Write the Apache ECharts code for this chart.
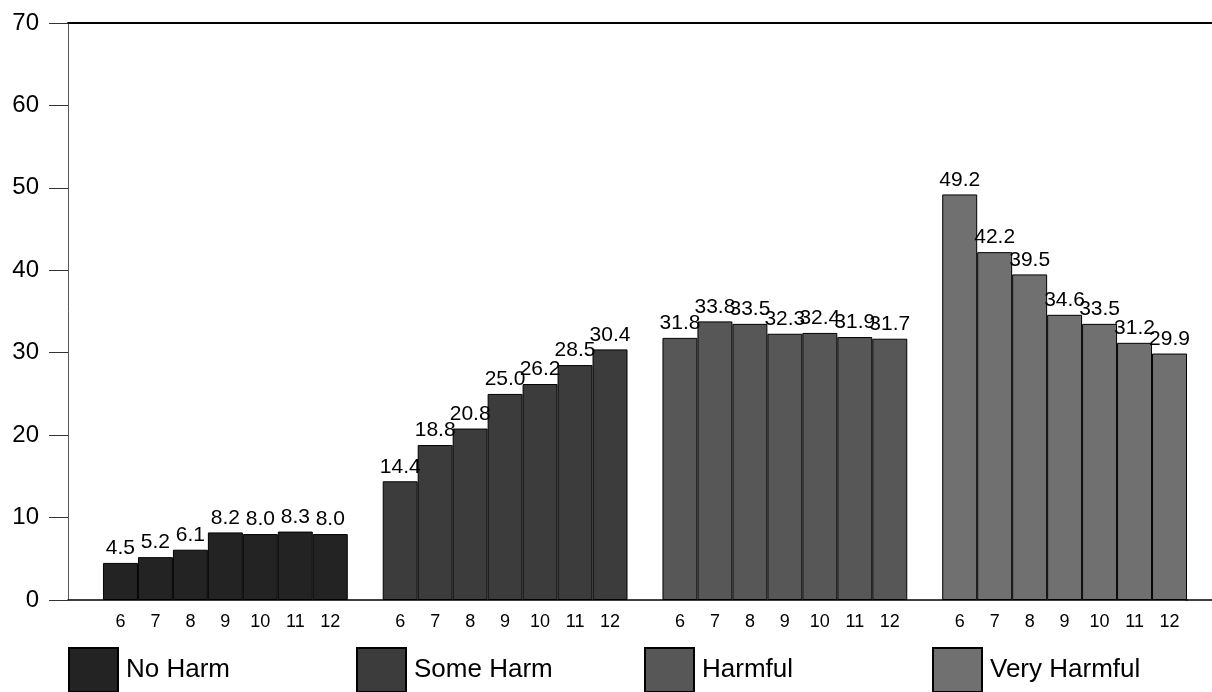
<!DOCTYPE html>
<html>
<head>
<meta charset="utf-8">
<script src="https://cdn.jsdelivr.net/npm/echarts@6/dist/echarts.min.js"></script>
<style>html,body{margin:0;padding:0;background:#fff;overflow:hidden}#c{width:1212px;height:692px}</style>
</head>
<body>
<div id="c"></div>
<script>
var grades = ['6', '7', '8', '9', '10', '11', '12'];
var seriesNames = ['No Harm', 'Some Harm', 'Harmful', 'Very Harmful'];
var noHarm = [4.5, 5.2, 6.1, 8.2, 8.0, 8.3, 8.0];
var someHarm = [14.4, 18.8, 20.8, 25.0, 26.2, 28.5, 30.4];
var harmful = [31.8, 33.8, 33.5, 32.3, 32.4, 31.9, 31.7];
var veryHarmful = [49.2, 42.2, 39.5, 34.6, 33.5, 31.2, 29.9];
var yTicks = [0, 10, 20, 30, 40, 50, 60, 70];

var groupValues = [noHarm, someHarm, harmful, veryHarmful];
var colors = ['#232323', '#3c3c3c', '#575757', '#707070'];
var FONT = 'Liberation Sans, Arial, sans-serif';

// categories: a blank slot before each group, then the grades
var categories = [];
for (var g = 0; g < seriesNames.length; g++) {
  categories.push('gap' + g + '|');
  for (var k = 0; k < grades.length; k++) categories.push('g' + g + '|' + grades[k]);
}

var series = [];
for (var s = 0; s < seriesNames.length; s++) {
  var data = categories.map(function () { return null; });
  var start = s * (grades.length + 1) + 1;
  for (var k = 0; k < grades.length; k++) data[start + k] = groupValues[s][k];
  series.push({
    name: seriesNames[s],
    type: 'bar',
    data: data,
    barGap: '-100%',
    barCategoryGap: '0%',
    itemStyle: { color: colors[s], borderColor: '#000', borderWidth: 1 },
    label: {
      show: true, position: 'top', distance: 4,
      color: '#000', fontSize: 21, fontFamily: FONT,
      formatter: function (p) { return p.value == null ? '' : Number(p.value).toFixed(1); }
    },
    emphasis: { disabled: true },
    animation: false
  });
}

var legendLeft = [68, 356, 644, 932];
var legends = seriesNames.map(function (n, i) {
  return {
    data: [n], left: legendLeft[i], top: 647, padding: 0,
    itemWidth: 49, itemHeight: 44, icon: 'rect',
    textStyle: { fontSize: 26, color: '#000', fontFamily: FONT, padding: [0, 0, 4, 3] },
    selectedMode: false
  };
});

var chart = echarts.init(document.getElementById('c'), null, { renderer: 'canvas' });
chart.setOption({
  backgroundColor: '#fff',
  animation: false,
  textStyle: { fontFamily: FONT },
  legend: legends,
  grid: { left: 68, right: 25, top: 23, bottom: 92, containLabel: false },
  xAxis: [{
    type: 'category', data: categories, position: 'bottom',
    axisLine: { show: true, lineStyle: { color: '#000', width: 1.5 } },
    axisTick: { show: false },
    axisLabel: {
      interval: 0, fontSize: 18, color: '#000', margin: 13, fontFamily: FONT,
      formatter: function (v) { return v.split('|')[1]; }
    },
    splitLine: { show: false }
  }, {
    type: 'category', data: categories, position: 'top',
    axisLine: { show: true, lineStyle: { color: '#000', width: 2 } },
    axisTick: { show: false }, axisLabel: { show: false }, splitLine: { show: false }
  }],
  yAxis: {
    type: 'value', min: yTicks[0], max: yTicks[yTicks.length - 1], interval: yTicks[1] - yTicks[0],
    axisLine: { show: true, lineStyle: { color: '#555', width: 1 } },
    axisTick: { show: true, length: 19, lineStyle: { color: '#333', width: 1 } },
    axisLabel: { fontSize: 24, color: '#000', margin: 29, fontFamily: FONT },
    splitLine: { show: false }
  },
  series: series
});

// extend the top and bottom rules to the right edge, as in the reference
var yTop = chart.convertToPixel({ yAxisIndex: 0 }, yTicks[yTicks.length - 1]);
var yBot = chart.convertToPixel({ yAxisIndex: 0 }, yTicks[0]);
var W = chart.getWidth();
chart.setOption({
  graphic: [
    { type: 'line', shape: { x1: W - 26, y1: yTop, x2: W, y2: yTop }, style: { stroke: '#000', lineWidth: 2 }, silent: true },
    { type: 'line', shape: { x1: W - 26, y1: yBot, x2: W, y2: yBot }, style: { stroke: '#000', lineWidth: 1.5 }, silent: true }
  ]
});
</script>
</body>
</html>
